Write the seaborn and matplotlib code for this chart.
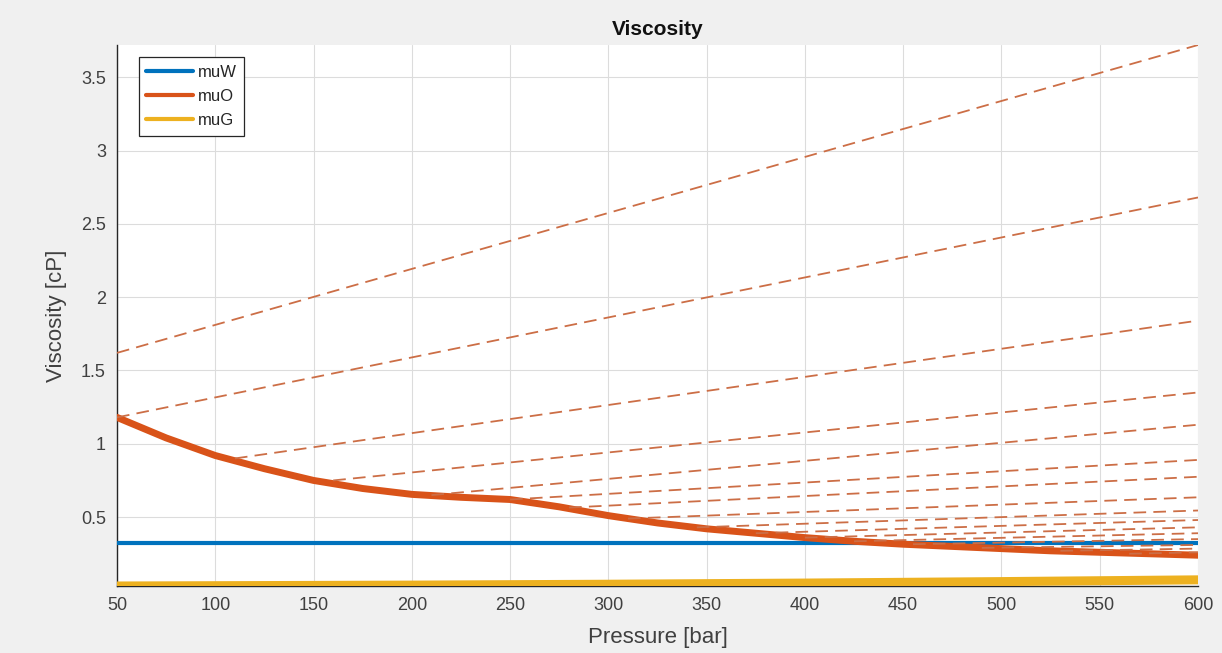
import matplotlib
matplotlib.use("Agg")
import matplotlib.pyplot as plt
import seaborn as sns
import pandas as pd
from matplotlib.lines import Line2D

# Water viscosity (constant over the pressure range)
water_pressure = [50, 600]
mu_w = [0.325, 0.325]

# Oil viscosity along the saturated curve
oil_pressure = [50, 75, 100, 125, 150, 175, 200, 225, 250, 275, 300, 325,
                350, 375, 400, 425, 450, 475, 500, 525, 550, 575, 600]
mu_o = [1.18, 1.04, 0.92, 0.83, 0.75, 0.695, 0.655, 0.635, 0.62, 0.57, 0.51,
        0.46, 0.42, 0.39, 0.36, 0.335, 0.315, 0.30, 0.285, 0.27, 0.26, 0.25, 0.24]

# Gas viscosity
gas_pressure = [50, 100, 150, 200, 250, 300, 350, 400, 450, 500, 550, 600]
mu_g = [0.030, 0.032, 0.034, 0.036, 0.039, 0.042, 0.046, 0.050, 0.055,
        0.060, 0.066, 0.072]

# Undersaturated oil branches: start pressure, start viscosity, viscosity at 600 bar
branch_start_p = [50, 50, 110, 160, 210, 250, 280, 310, 345, 375, 400, 425,
                  455, 490, 530, 565]
branch_start_mu = [1.62, 1.18, 0.90, 0.75, 0.65, 0.62, 0.565, 0.49, 0.43, 0.39,
                   0.36, 0.335, 0.315, 0.29, 0.27, 0.25]
branch_end_mu = [3.72, 2.68, 1.84, 1.35, 1.13, 0.89, 0.775, 0.635, 0.545, 0.48,
                 0.43, 0.39, 0.35, 0.31, 0.285, 0.26]
branch_end_p = 600

x_ticks = [50, 100, 150, 200, 250, 300, 350, 400, 450, 500, 550, 600]
y_ticks = [0.5, 1, 1.5, 2, 2.5, 3, 3.5]
y_tick_labels = ["0.5", "1", "1.5", "2", "2.5", "3", "3.5"]

BLUE = "#0072BD"
ORANGE = "#D95319"
YELLOW = "#EDB120"
BRANCH = "#CC6E46"
AX_COLOR = "#262626"

sns.set_theme(style="white")
plt.rcParams["font.family"] = ["Liberation Sans", "DejaVu Sans"]

W, H = 1222, 653
fig = plt.figure(figsize=(W / 100, H / 100), dpi=100, facecolor="#f0f0f0")
left, right, top, bottom = 117, 1198, 45, 586
ax = fig.add_axes([left / W, (H - bottom) / H, (right - left) / W, (bottom - top) / H])
ax.set_facecolor("white")

sns.lineplot(x=water_pressure, y=mu_w, ax=ax, color=BLUE, lw=3.0,
             label="muW", legend=False, zorder=3)
sns.lineplot(x=oil_pressure, y=mu_o, ax=ax, color=ORANGE, lw=5.0,
             label="muO", legend=False, zorder=3)
sns.lineplot(x=gas_pressure, y=mu_g, ax=ax, color=YELLOW, lw=6.5,
             label="muG", legend=False, zorder=3)

for p0, v0, v1 in zip(branch_start_p, branch_start_mu, branch_end_mu):
    seg = pd.DataFrame({"p": [p0, branch_end_p], "mu": [v0, v1]})
    sns.lineplot(data=seg, x="p", y="mu", ax=ax, color=BRANCH, lw=1.3,
                 dashes=False, legend=False, zorder=4,
                 linestyle=(0, (7, 4)))

ax.set_xlim(50, 600)
ax.set_ylim(0.03, 3.72)
ax.set_xticks(x_ticks)
ax.set_xticklabels([str(t) for t in x_ticks])
ax.set_yticks(y_ticks)
ax.set_yticklabels(y_tick_labels)

ax.grid(True, color="#dcdcdc", lw=0.8)
ax.set_axisbelow(True)
for side in ["top", "right"]:
    ax.spines[side].set_visible(False)
for side in ["left", "bottom"]:
    ax.spines[side].set_color(AX_COLOR)
    ax.spines[side].set_linewidth(1.0)
ax.tick_params(axis="both", direction="in", length=7, width=1.0,
               color=AX_COLOR, labelcolor="#404040", labelsize=13, pad=8)

ax.set_title("Viscosity", fontsize=15, fontweight="bold", color="#111111", pad=7)
ax.set_xlabel("Pressure [bar]", fontsize=16, color="#404040", labelpad=9)
ax.set_ylabel("Viscosity [cP]", fontsize=16, color="#404040", labelpad=10)

handles = [Line2D([], [], color=BLUE, lw=3.0),
           Line2D([], [], color=ORANGE, lw=3.0),
           Line2D([], [], color=YELLOW, lw=3.0)]
leg = ax.legend(handles, ["muW", "muO", "muG"], loc="upper left",
                bbox_to_anchor=(0.02, 0.977), fontsize=12, frameon=True,
                fancybox=False, handlelength=2.8, handletextpad=0.3,
                labelspacing=0.55, borderpad=0.45, borderaxespad=0.0)
leg.get_frame().set_edgecolor(AX_COLOR)
leg.get_frame().set_linewidth(0.9)
leg.get_frame().set_facecolor("white")
leg.get_frame().set_alpha(1.0)
for t in leg.get_texts():
    t.set_color("#262626")

fig.savefig("out.png", dpi=100, facecolor=fig.get_facecolor())
